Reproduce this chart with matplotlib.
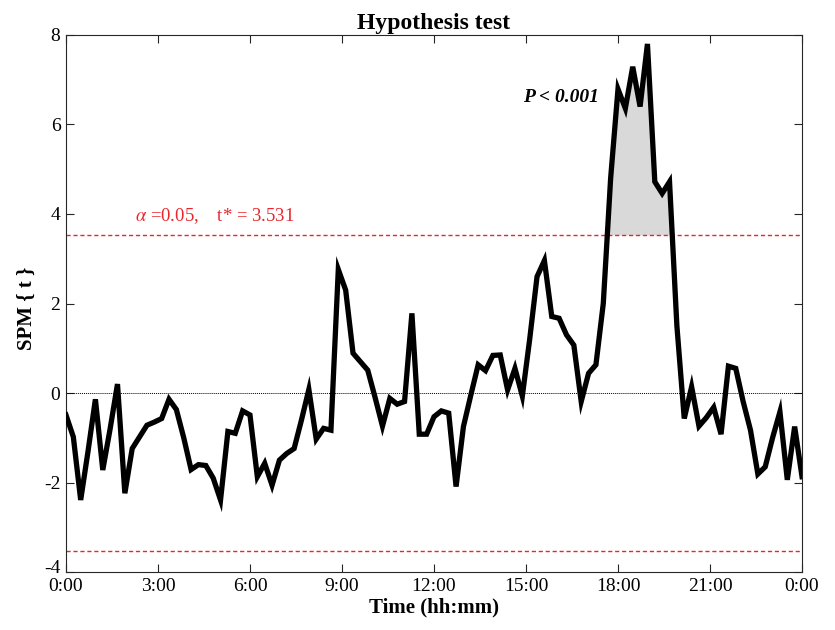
import numpy as np
import matplotlib
matplotlib.use("Agg")
import matplotlib.pyplot as plt
from matplotlib.transforms import ScaledTranslation

plt.rcParams['font.family'] = ['Liberation Serif', 'DejaVu Serif']
plt.rcParams['mathtext.fontset'] = 'stix'
plt.rcParams['axes.unicode_minus'] = False

# SPM{t} values at 101 equally spaced nodes over 24 h
spm_t = [-0.49, -0.98, -2.39, -1.3, -0.14, -1.72, -0.8, 0.2, -2.24, -1.24,
         -0.98, -0.72, -0.65, -0.57, -0.14, -0.37, -1.0, -1.71, -1.6, -1.62,
         -1.9, -2.39, -0.86, -0.9, -0.4, -0.49, -1.87, -1.57, -2.06, -1.5,
         -1.35, -1.24, -0.6, 0.08, -1.03, -0.79, -0.83, 2.76, 2.3, 0.89,
         0.7, 0.51, -0.1, -0.74, -0.12, -0.25, -0.19, 1.78, -0.92, -0.92,
         -0.53, -0.4, -0.45, -2.09, -0.75, -0.05, 0.63, 0.5, 0.84, 0.85,
         0.07, 0.55, -0.07, 1.2, 2.6, 2.96, 1.71, 1.67, 1.3, 1.07,
         -0.19, 0.44, 0.63, 2.0, 4.8, 6.79, 6.36, 7.29, 6.4, 7.8,
         4.72, 4.46, 4.72, 1.5, -0.57, 0.14, -0.74, -0.55, -0.32, -0.92,
         0.6, 0.55, -0.19, -0.83, -1.81, -1.65, -1.0, -0.42, -1.94, -0.75,
         -1.87]
t_crit = 3.531
alpha = 0.05
x_ticks = [0, 3, 6, 9, 12, 15, 18, 21, 24]
x_ticklabels = ['0:00', '3:00', '6:00', '9:00', '12:00', '15:00', '18:00', '21:00', '0:00']
y_ticks = [-4, -2, 0, 2, 4, 6, 8]

y = np.array(spm_t)
x = np.linspace(0, 24, len(y))

fig = plt.figure(figsize=(8.35, 6.3), dpi=100)
ax = fig.add_axes([0.079, 0.092, 0.8815, 0.8525])

red = '#e8262b'
ax.fill_between(x, t_crit, y, where=y > t_crit, interpolate=True,
                color='#d9d9d9', linewidth=0, zorder=1)
ax.axhline(0, color='black', linestyle=(0, (1, 1)), linewidth=0.7, zorder=2)
ax.axhline(t_crit, color=red, linestyle=(0, (3, 2)), linewidth=1.0, zorder=2)
ax.axhline(-t_crit, color=red, linestyle=(0, (3, 2)), linewidth=1.0, zorder=2)
ax.plot(x, y, color='black', linewidth=3.8, solid_joinstyle='miter', zorder=3)

ax.text(2.25, 3.85, r'$\alpha$ =0.05,    t* = 3.531', color=red,
        fontsize=13.5, ha='left', va='baseline')
ax.text(14.9, 6.5, 'P < 0.001', fontsize=14, fontweight='bold',
        fontstyle='italic', ha='left', va='baseline')

ax.set_xlim(0, 24)
ax.set_ylim(-4, 8)
ax.set_xticks(x_ticks)
ax.set_xticklabels(x_ticklabels)
ax.set_yticks(y_ticks)
ax.tick_params(direction='in', top=True, right=True, labelsize=14,
               length=6, width=0.8, colors='#262626', labelcolor='black', pad=4)
for s in ax.spines.values():
    s.set_color('#262626')
    s.set_linewidth(0.8)

# raise the bottom y tick label slightly (as in reference)
lbl = ax.get_yticklabels()[0]
lbl.set_transform(lbl.get_transform() + ScaledTranslation(0, 6 / 100, fig.dpi_scale_trans))

ax.set_title('Hypothesis test', fontsize=17, fontweight='bold', pad=4)
ax.set_xlabel('Time (hh:mm)', fontsize=15, fontweight='bold', labelpad=2)
ax.set_ylabel('SPM { t }', fontsize=15, fontweight='bold')
ax.yaxis.set_label_coords(-0.0394, 0.49)

fig.savefig('out.png', dpi=100)
